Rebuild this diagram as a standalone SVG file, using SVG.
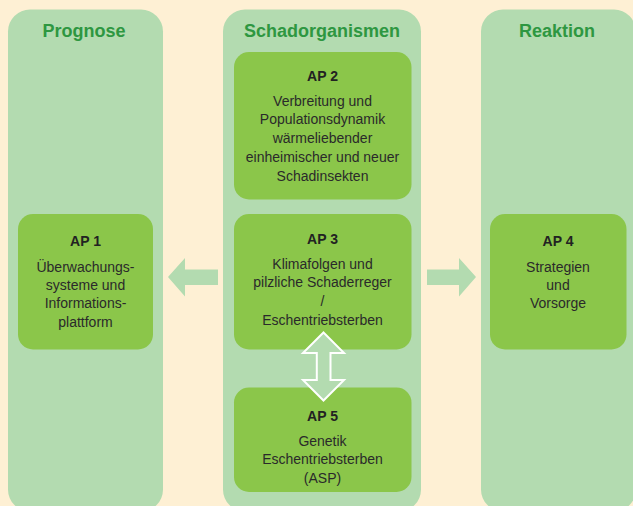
<svg xmlns="http://www.w3.org/2000/svg" width="633" height="506" viewBox="0 0 633 506">
<style>
.panel{fill:#b3dbb0}
.box{fill:#8bc64a}
.title{font-family:"Liberation Sans",Arial,sans-serif;font-weight:bold;font-size:18px;fill:#2e9741;text-anchor:middle}
.ap{font-family:"Liberation Sans",Arial,sans-serif;font-weight:bold;font-size:14px;fill:#222;text-anchor:middle}
.t{font-family:"Liberation Sans",Arial,sans-serif;font-size:14px;fill:#2a2a2a;text-anchor:middle}
.arr{fill:#b3dbb0}
.dbl{fill:#b3dbb0;stroke:#ffffff;stroke-width:2;stroke-linejoin:miter}
</style>
<rect x="0" y="0" width="633" height="506" fill="#fef0d4"/>
<g id="prognose">
<rect class="panel" x="8" y="9.5" width="155" height="502" rx="22"/>
<text class="title" x="84" y="37">Prognose</text>
</g>
<g id="schadorganismen">
<rect class="panel" x="223" y="9.5" width="198" height="502" rx="22"/>
<text class="title" x="322" y="37">Schadorganismen</text>
</g>
<g id="reaktion">
<rect class="panel" x="481" y="9.5" width="155" height="502" rx="22"/>
<text class="title" x="557" y="37">Reaktion</text>
</g>
<g id="ap2">
<rect class="box" x="234" y="52" width="177.5" height="147.5" rx="15"/>
<text class="ap" x="322.5" y="80.5">AP 2</text>
<text class="t" x="322.5" y="105.5">Verbreitung und</text>
<text class="t" x="322.5" y="124.3">Populationsdynamik</text>
<text class="t" x="322.5" y="143.1">wärmeliebender</text>
<text class="t" x="322.5" y="161.9">einheimischer und neuer</text>
<text class="t" x="322.5" y="180.7">Schadinsekten</text>
</g>
<g id="ap3">
<rect class="box" x="234" y="214" width="177.5" height="135.5" rx="15"/>
<text class="ap" x="322.5" y="243.5">AP 3</text>
<text class="t" x="322.5" y="268.5">Klimafolgen und</text>
<text class="t" x="322.5" y="287.3">pilzliche Schaderreger</text>
<text class="t" x="322.5" y="306">/</text>
<text class="t" x="322.5" y="324.5">Eschentriebsterben</text>
</g>
<g id="ap5">
<rect class="box" x="234" y="387.5" width="177.5" height="104.5" rx="15"/>
<text class="ap" x="322.5" y="420.5">AP 5</text>
<text class="t" x="322.5" y="445.5">Genetik</text>
<text class="t" x="322.5" y="464.3">Eschentriebsterben</text>
<text class="t" x="322.5" y="483">(ASP)</text>
</g>
<g id="ap1">
<rect class="box" x="18" y="214" width="135" height="135.5" rx="15"/>
<text class="ap" x="85.5" y="245.7">AP 1</text>
<text class="t" x="85.5" y="271.7">Überwachungs-</text>
<text class="t" x="85.5" y="290">systeme und</text>
<text class="t" x="85.5" y="308.3">Informations-</text>
<text class="t" x="85.5" y="326.7">plattform</text>
</g>
<g id="ap4">
<rect class="box" x="490" y="214" width="136.5" height="135.5" rx="15"/>
<text class="ap" x="558" y="246">AP 4</text>
<text class="t" x="558" y="271.5">Strategien</text>
<text class="t" x="558" y="289.5">und</text>
<text class="t" x="558" y="308">Vorsorge</text>
</g>
<g id="connectors">
<polygon class="arr" points="168,277 185,258 185,269.5 218,269.5 218,285 185,285 185,296.5"/>
<polygon class="arr" points="427,269.5 459,269.5 459,258 476,277 459,296.5 459,285 427,285"/>
<polygon class="dbl" points="323.5,332.5 344,353 330.5,353 330.5,380 344,380 323.5,400.5 303,380 316.8,380 316.8,353 303,353"/>
</g>
</svg>
